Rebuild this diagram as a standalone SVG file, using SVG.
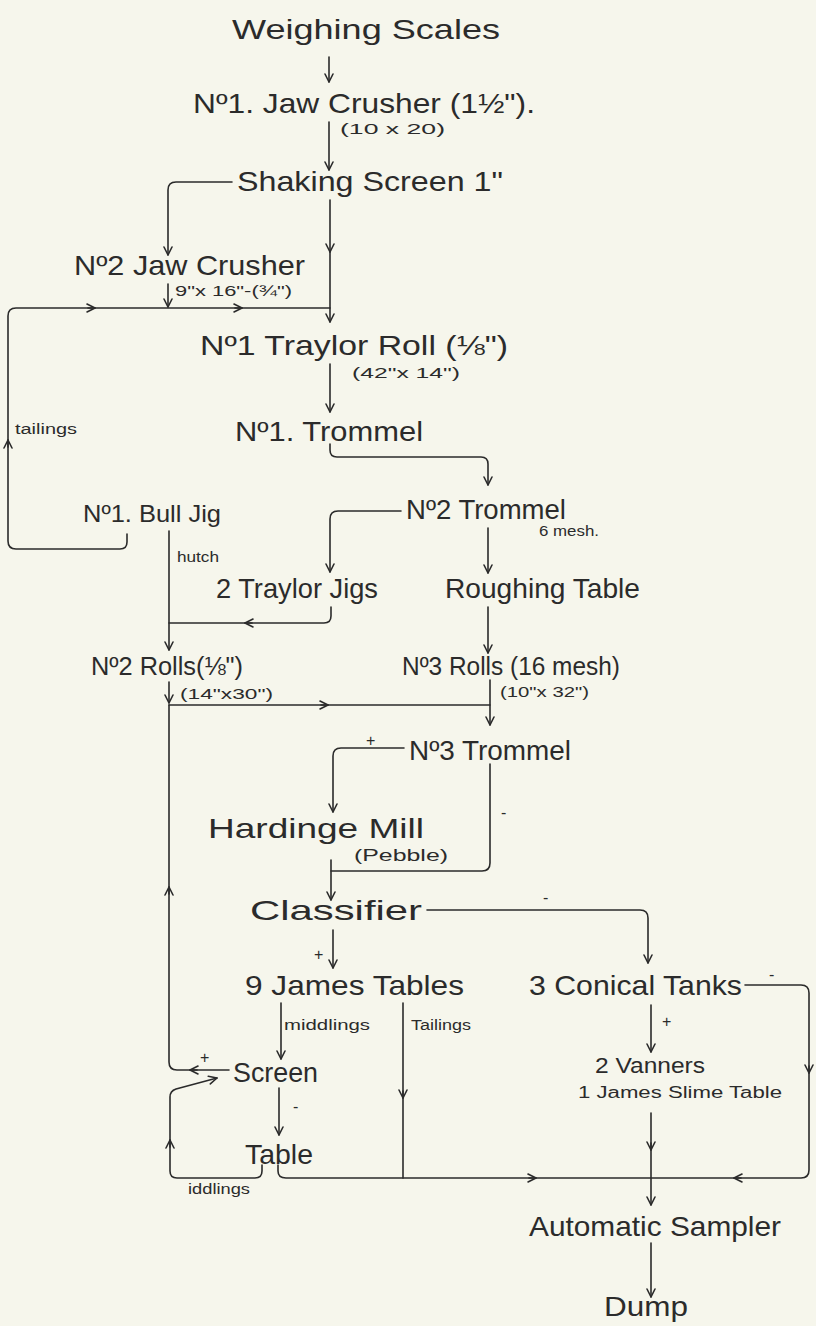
<svg xmlns="http://www.w3.org/2000/svg" width="816" height="1326" viewBox="0 0 816 1326">
<style>
.bg{fill:#f6f6ec}
.t{font-family:"Liberation Sans",Arial,sans-serif;fill:#2b2b2b}
.L{font-size:28px}
.K{font-size:26px}
.M{font-size:24px}
.V{font-size:22px}
.S{font-size:14px}
.P{font-size:16px}
.c path{fill:none;stroke:#2b2b2b;stroke-width:1.6;stroke-linecap:round;stroke-linejoin:round}
.c path.a{marker-end:url(#arr)}
</style>
<defs>
<marker id="arr" viewBox="-10 -6 12 12" markerWidth="12" markerHeight="12" refX="0" refY="0" orient="auto" markerUnits="userSpaceOnUse" overflow="visible">
<path d="M-8,-4 L0,0 L-8,4" fill="none" stroke="#2b2b2b" stroke-width="1.6" stroke-linecap="round" stroke-linejoin="round"/>
</marker>
</defs>
<rect class="bg" x="0" y="0" width="816" height="1326"/>
<g id="connectors" class="c">
<path class="a" d="M329,57 V82"/>
<path class="a" d="M329,122 V170"/>
<path class="a" d="M232,182 H176 Q168,182 168,190 V255"/>
<path class="a" d="M330,200 V252"/>
<path class="a" d="M330,252 V322"/>
<path class="a" d="M168,284 V307"/>
<path d="M330,308 H16 Q8,308 8,316 V541 Q8,549 16,549 H120 Q127,549 127,542 V534"/>
<path class="a" d="M8,447 V440"/>
<path class="a" d="M88,308 H95"/>
<path class="a" d="M235,308 H242"/>
<path class="a" d="M330,364 V412"/>
<path class="a" d="M330,444 V450 Q330,457 337,457 H481 Q488,457 488,464 V485"/>
<path class="a" d="M401,511 H338 Q330,511 330,519 V572"/>
<path class="a" d="M488,528 V573"/>
<path class="a" d="M169,531 V650"/>
<path d="M331,607 V616 Q331,623 324,623 H169"/>
<path class="a" d="M252,623 H245"/>
<path class="a" d="M488,607 V653"/>
<path class="a" d="M169,682 V703"/>
<path d="M169,705 H490"/>
<path class="a" d="M321,705 H328"/>
<path class="a" d="M490,680 V725"/>
<path class="a" d="M404,748 H341 Q333,748 333,756 V812"/>
<path d="M490,764 V863 Q490,871 482,871 H331"/>
<path class="a" d="M331,860 V900"/>
<path class="a" d="M427,910 H640 Q648,910 648,918 V963"/>
<path d="M169,705 V1062 Q169,1070 177,1070 H229"/>
<path class="a" d="M169,894 V887"/>
<path class="a" d="M197,1070 H190"/>
<path class="a" d="M333,930 V968"/>
<path d="M745,985 H801 Q809,985 809,993 V1170 Q809,1178 801,1178 H286 Q278,1178 278,1171 V1165"/>
<path class="a" d="M809,1066 V1073"/>
<path class="a" d="M741,1178 H734"/>
<path class="a" d="M529,1178 H536"/>
<path class="a" d="M281,1003 V1059"/>
<path d="M403,1003 V1178"/>
<path class="a" d="M403,1091 V1098"/>
<path class="a" d="M651,1005 V1052"/>
<path class="a" d="M651,1113 V1205"/>
<path class="a" d="M651,1143 V1150"/>
<path class="a" d="M279,1088 V1135"/>
<path class="a" d="M262,1165 V1171 Q262,1178 255,1178 H177 Q170,1178 170,1171 V1097 Q170,1091 176,1089 L217,1078"/>
<path class="a" d="M170,1147 V1140"/>
<path class="a" d="M651,1243 V1297"/>
</g>
<g id="n-weighing"><text class="t L" x="232" y="39" textLength="268" lengthAdjust="spacingAndGlyphs">Weighing Scales</text></g>
<g id="n-jaw1"><text class="t L" x="193" y="113" textLength="342" lengthAdjust="spacingAndGlyphs">Nº1. Jaw Crusher (1½").</text>
<text class="t S" x="340" y="134" textLength="105" lengthAdjust="spacingAndGlyphs">(10 x 20)</text></g>
<g id="n-shaking"><text class="t L" x="237" y="191" textLength="266" lengthAdjust="spacingAndGlyphs">Shaking Screen 1"</text></g>
<g id="n-jaw2"><text class="t L" x="74" y="275" textLength="231" lengthAdjust="spacingAndGlyphs">Nº2 Jaw Crusher</text>
<text class="t S" x="175" y="296" textLength="117" lengthAdjust="spacingAndGlyphs">9"x 16"-(¾")</text></g>
<g id="n-roll1"><text class="t L" x="200" y="355" textLength="308" lengthAdjust="spacingAndGlyphs">Nº1 Traylor Roll (⅛")</text>
<text class="t S" x="352" y="378" textLength="108" lengthAdjust="spacingAndGlyphs">(42"x 14")</text></g>
<g id="n-tailings"><text class="t S" x="15" y="434" textLength="62" lengthAdjust="spacingAndGlyphs">tailings</text></g>
<g id="n-trommel1"><text class="t L" x="235" y="441" textLength="188" lengthAdjust="spacingAndGlyphs">Nº1. Trommel</text></g>
<g id="n-bulljig"><text class="t M" x="83" y="522" textLength="138" lengthAdjust="spacingAndGlyphs">Nº1. Bull Jig</text>
<text class="t S" x="177" y="562" textLength="42" lengthAdjust="spacingAndGlyphs">hutch</text></g>
<g id="n-trommel2"><text class="t L" x="406" y="519" textLength="160" lengthAdjust="spacingAndGlyphs">Nº2 Trommel</text>
<text class="t S" x="539" y="536" textLength="60" lengthAdjust="spacingAndGlyphs">6 mesh.</text></g>
<g id="n-jigs"><text class="t L" x="216" y="598" textLength="162" lengthAdjust="spacingAndGlyphs">2 Traylor Jigs</text></g>
<g id="n-roughing"><text class="t L" x="445" y="598" textLength="195" lengthAdjust="spacingAndGlyphs">Roughing Table</text></g>
<g id="n-rolls2"><text class="t K" x="91" y="675" textLength="152" lengthAdjust="spacingAndGlyphs">Nº2 Rolls(⅛")</text>
<text class="t S" x="180" y="699" textLength="93" lengthAdjust="spacingAndGlyphs">(14"x30")</text></g>
<g id="n-rolls3"><text class="t K" x="402" y="675" textLength="218" lengthAdjust="spacingAndGlyphs">Nº3 Rolls (16 mesh)</text>
<text class="t S" x="500" y="697" textLength="89" lengthAdjust="spacingAndGlyphs">(10"x 32")</text></g>
<g id="n-trommel3"><text class="t P" x="366" y="746">+</text>
<text class="t L" x="409" y="760" textLength="162" lengthAdjust="spacingAndGlyphs">Nº3 Trommel</text>
<text class="t P" x="501" y="818">-</text></g>
<g id="n-hardinge"><text class="t L" x="208" y="838" textLength="216" lengthAdjust="spacingAndGlyphs">Hardinge Mill</text>
<text class="t P" x="354" y="861" textLength="94" lengthAdjust="spacingAndGlyphs">(Pebble)</text></g>
<g id="n-classifier"><text class="t L" x="250" y="920" textLength="172" lengthAdjust="spacingAndGlyphs">Classifier</text>
<text class="t P" x="543" y="903">-</text>
<text class="t P" x="314" y="960">+</text></g>
<g id="n-james"><text class="t L" x="245" y="995" textLength="219" lengthAdjust="spacingAndGlyphs">9 James Tables</text>
<text class="t S" x="284" y="1030" textLength="86" lengthAdjust="spacingAndGlyphs">middlings</text>
<text class="t S" x="411" y="1030" textLength="60" lengthAdjust="spacingAndGlyphs">Tailings</text></g>
<g id="n-conical"><text class="t L" x="529" y="995" textLength="213" lengthAdjust="spacingAndGlyphs">3 Conical Tanks</text>
<text class="t P" x="769" y="980">-</text>
<text class="t P" x="662" y="1027">+</text></g>
<g id="n-screen"><text class="t P" x="200" y="1063">+</text>
<text class="t L" x="233" y="1082" textLength="85" lengthAdjust="spacingAndGlyphs">Screen</text>
<text class="t P" x="293" y="1112">-</text></g>
<g id="n-vanners"><text class="t V" x="595" y="1073" textLength="110" lengthAdjust="spacingAndGlyphs">2 Vanners</text>
<text class="t P" x="578" y="1098" textLength="204" lengthAdjust="spacingAndGlyphs">1 James Slime Table</text></g>
<g id="n-table"><text class="t L" x="245" y="1164" textLength="68" lengthAdjust="spacingAndGlyphs">Table</text>
<text class="t S" x="188" y="1194" textLength="62" lengthAdjust="spacingAndGlyphs">iddlings</text></g>
<g id="n-sampler"><text class="t L" x="529" y="1236" textLength="252" lengthAdjust="spacingAndGlyphs">Automatic Sampler</text></g>
<g id="n-dump"><text class="t L" x="604" y="1316" textLength="84" lengthAdjust="spacingAndGlyphs">Dump</text></g>
</svg>
